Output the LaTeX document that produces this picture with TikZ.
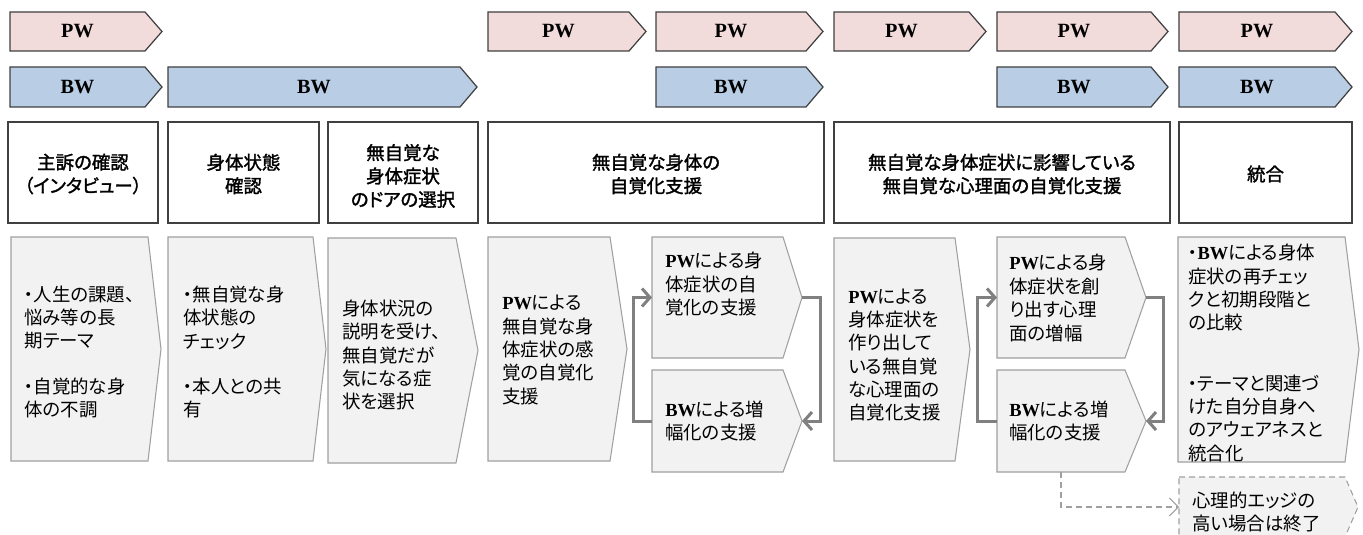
\documentclass[tikz,border=0pt]{standalone}
\usepackage{fontspec}
\setmainfont{Noto Sans CJK JP}[RawFeature=+palt]
\newfontfamily\hdrf{Noto Sans CJK JP}[RawFeature=+palt, FakeBold=1.6]
\newfontfamily\pwf{Liberation Serif}
\usetikzlibrary{arrows.meta,calc}
\definecolor{pwfill}{HTML}{F2DCDB}
\definecolor{bwfill}{HTML}{B9CDE5}
\definecolor{edgec}{HTML}{404040}
\definecolor{boxfill}{HTML}{F2F2F2}
\definecolor{boxedge}{HTML}{A0A0A0}
\definecolor{loopc}{HTML}{808080}
\newcommand{\PW}{{\pwf\bfseries PW}}
\newcommand{\BW}{{\pwf\bfseries BW}}
% #1 name, #2 style, #3 x0, #4 y0, #5 x body end, #6 x tip, #7 y1
\newcommand{\chevshape}[7]{%
  \draw[#2] (#3,#4) -- (#5,#4) -- (#6,{(#4+#7)/2}) -- (#5,#7) -- (#3,#7) -- cycle;
  \coordinate (#1-w) at (#3,{(#4+#7)/2});
  \coordinate (#1-e) at (#6,{(#4+#7)/2});
  \coordinate (#1-c) at ({(#3+#5)/2},{(#4+#7)/2});
}
\tikzset{
  pwbox/.style={draw=edgec, fill=pwfill, line width=0.7pt, line join=miter},
  bwbox/.style={draw=edgec, fill=bwfill, line width=0.7pt, line join=miter},
  hdrbox/.style={draw=edgec, line width=0.8pt},
  gbox/.style={draw=boxedge, fill=boxfill, line width=0.6pt},
  endbox/.style={draw=boxedge, fill=boxfill, line width=0.6pt, dash pattern=on 1.2mm off 0.8mm},
  lab/.style={font=\fontsize{11.5}{13}\selectfont, inner sep=0pt},
  htxt/.style={align=center, font=\hdrf\fontsize{10.5}{13.3}\selectfont, inner sep=0pt},
  btxt/.style={align=left, anchor=west, font=\fontsize{10.5}{13.3}\selectfont, inner sep=0pt},
  looparrow/.style={draw=loopc, line width=0.6mm, -{Straight Barb[length=1.6mm,width=3.6mm]}},
  exitarrow/.style={draw=boxedge, line width=0.6pt, dash pattern=on 1.2mm off 0.8mm, -{Straight Barb[length=1.8mm,width=3.6mm]}}
}
\begin{document}
\begin{tikzpicture}[x=0.2mm, y=-0.2mm]
\useasboundingbox (0,0) rectangle (1363,535);
\fill[white] (0,0) rectangle (1363,535);

% ---- PW row ----
\chevshape{pwa}{pwbox}{10}{12}{145}{162}{51}
\chevshape{pwb}{pwbox}{488}{12}{629}{646}{51}
\chevshape{pwc}{pwbox}{656}{12}{806}{823}{51}
\chevshape{pwd}{pwbox}{834}{12}{969}{986}{51}
\chevshape{pwe}{pwbox}{997}{12}{1151}{1168}{51}
\chevshape{pwf}{pwbox}{1179}{12}{1335}{1352}{51}
\node[lab] (lpwa) at (pwa-c) {\PW};
\node[lab] (lpwb) at (pwb-c) {\PW};
\node[lab] (lpwc) at (pwc-c) {\PW};
\node[lab] (lpwd) at (pwd-c) {\PW};
\node[lab] (lpwe) at (pwe-c) {\PW};
\node[lab] (lpwf) at (pwf-c) {\PW};

% ---- BW row ----
\chevshape{bwa}{bwbox}{10}{67}{145}{162}{107}
\chevshape{bwb}{bwbox}{168}{67}{460}{477}{107}
\chevshape{bwc}{bwbox}{656}{67}{806}{823}{107}
\chevshape{bwd}{bwbox}{997}{67}{1151}{1168}{107}
\chevshape{bwe}{bwbox}{1179}{67}{1335}{1352}{107}
\node[lab] (lbwa) at (bwa-c) {\BW};
\node[lab] (lbwb) at (bwb-c) {\BW};
\node[lab] (lbwc) at (bwc-c) {\BW};
\node[lab] (lbwd) at (bwd-c) {\BW};
\node[lab] (lbwe) at (bwe-c) {\BW};

% ---- header boxes ----
\draw[hdrbox] (8,122) rectangle (158,223);
\draw[hdrbox] (168,122) rectangle (319,223);
\draw[hdrbox] (328,122) rectangle (478,223);
\draw[hdrbox] (488,122) rectangle (824,223);
\draw[hdrbox] (834,122) rectangle (1170,223);
\draw[hdrbox] (1179,122) rectangle (1352,223);
\node[htxt] (ha) at (83,174) {主訴の確認\\（インタビュー）};
\node[htxt] (hb) at (243.5,174) {身体状態\\確認};
\node[htxt] (hc) at (403,176) {無自覚な\\身体症状\\のドアの選択};
\node[htxt] (hd) at (656,174) {無自覚な身体の\\自覚化支援};
\node[htxt] (he) at (1002,174) {無自覚な身体症状に影響している\\無自覚な心理面の自覚化支援};
\node[htxt] (hf) at (1265.5,174) {統合};

% ---- content chevrons ----
\chevshape{ca}{gbox}{11}{237}{148}{161}{461}
\chevshape{cb}{gbox}{168}{237}{313}{326}{461}
\chevshape{cc}{gbox}{328}{238}{456}{478}{463}
\chevshape{cd}{gbox}{488}{237}{610}{627}{461}
\chevshape{pa}{gbox}{652}{237}{783}{802}{358}
\chevshape{ba}{gbox}{652}{370}{783}{802}{472}
\chevshape{ce}{gbox}{834}{238}{955}{970}{461}
\chevshape{pb}{gbox}{997}{237}{1125}{1146}{358}
\chevshape{bb}{gbox}{997}{370}{1125}{1146}{472}
\chevshape{cf}{gbox}{1178}{237}{1345}{1359}{462}
\chevshape{fin}{endbox}{1179}{477}{1345}{1358}{537}

\node[btxt] (ta) at (24,352) {・人生の課題、\\悩み等の長\\期テーマ\\[12.5pt]・自覚的な身\\体の不調};
\node[btxt] (tb) at (183,352) {・無自覚な身\\体状態の\\チェック\\[12.5pt]・本人との共\\有};
\node[btxt] (tc) at (342,355) {身体状況の\\説明を受け、\\無自覚だが\\気になる症\\状を選択};
\node[btxt] (td) at (502,350) {\PW{}による\\無自覚な身\\体症状の感\\覚の自覚化\\支援};
\node[btxt] (tpa) at (665,284) {\PW{}による身\\体症状の自\\覚化の支援};
\node[btxt] (tba) at (665,421) {\BW{}による増\\幅化の支援};
\node[btxt] (te) at (848,355) {\PW{}による\\身体症状を\\作り出して\\いる無自覚\\な心理面の\\自覚化支援};
\node[btxt] (tpb) at (1009,298) {\PW{}による身\\体症状を創\\り出す心理\\面の増幅};
\node[btxt] (tbb) at (1009,421) {\BW{}による増\\幅化の支援};
\node[btxt] (tf) at (1188,353) {・\BW{}による身体\\症状の再チェッ\\クと初期段階と\\の比較\\[21pt]・テーマと関連づ\\けた自分自身へ\\のアウェアネスと\\統合化};
\node[btxt] (tfin) at (1192,512) {心理的エッジの\\高い場合は終了};

% ---- loop connectors ----
\draw[looparrow] (pa-e) -| ($(ba-e)+(18,0)$) -- (ba-e);
\draw[looparrow] (ba-w) -- ++(-19,0) |- (pa-w);
\draw[looparrow] (pb-e) -| ($(bb-e)+(17,0)$) -- (bb-e);
\draw[looparrow] (bb-w) -- ++(-20,0) |- (pb-w);

% ---- exit connector ----
\coordinate (bb-s) at (1061,472);
\draw[exitarrow] (bb-s) |- (fin-w);
\end{tikzpicture}
\end{document}
